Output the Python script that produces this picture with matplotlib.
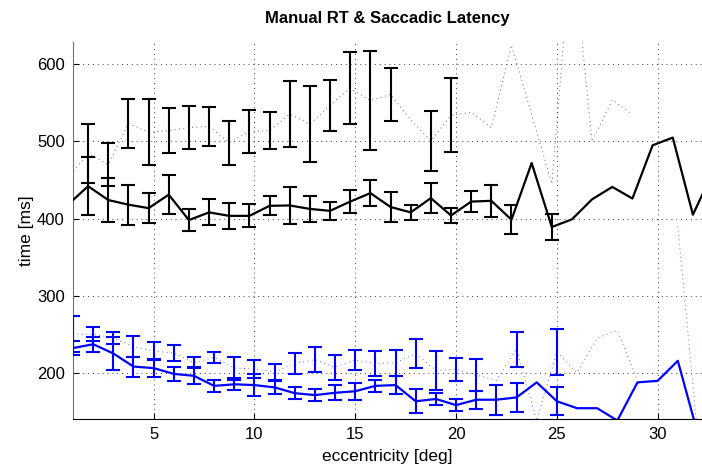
import numpy as np
import matplotlib
matplotlib.use("Agg")
import matplotlib.pyplot as plt

plt.rcParams["font.family"] = ["Liberation Sans", "DejaVu Sans"]

nan = np.nan

# --------------------------------------------------------------------------- #
#  Data
# --------------------------------------------------------------------------- #
# manual RT is sampled a quarter degree left of the saccade bins
ecc_rt = np.arange(1, 34) - 0.25      # 0.75 .. 32.75 deg
ecc_sacc = np.arange(1, 33)           # 1 .. 32 deg

# manual RT, condition A (solid black)
rt_a_mean = [418, 442, 424, 418, 413.5, 431, 398, 408, 403.5, 403.5, 416.5,
             417, 412.5, 410, 422, 433, 415, 408, 426.5, 404, 422, 423, 398.5,
             472, 389, 399, 425, 441, 426, 495, 505, 405, 461]
rt_a_err = [nan, 38, 28, 26, 19, 25, 14, 17, 16.5, 15, 12.5, 24, 16.5, 12, 15,
            17, 19, 10, 19.5, 10, 14, 21, 19, nan, 17,
            nan, nan, nan, nan, nan, nan, nan, nan]

# manual RT, condition B (dotted black)
rt_b_mean = [453, 484.5, 470, 523.5, 512, 514, 518, 519.5, 498.5, 513, 514,
             535.5, 522.5, 547, 569, 553, 561, 528, 501, 534, 538, 518, 625,
             535, 445, 760, 500, 554, 535, nan, nan, nan, nan]
rt_b_err = [nan, 38, 28, 31.5, 42.6, 29, 28, 25.5, 28.5, 28, 24, 42.5, 49.5,
            33, 47, 64, 34.5, nan, 39, 48,
            nan, nan, nan, nan, nan, nan, nan, nan, nan, nan, nan, nan, nan]

# saccadic latency, condition A (solid blue)
sacc_a_mean = [232, 237, 225, 208, 206, 198.5, 196, 183, 185, 184, 181, 173.5,
               171, 174, 176, 183, 184, 163, 166, 158, 165, 165, 168, 187.5,
               163, 154, 154, 138, 187.5, 189.5, 215.5, 120]
sacc_a_err = [9, 10, 21, 13, 12, 9, 11, 7.5, 8, 14, 8, 7.5, 7.5, 10, 11, 7.5,
              12, 15.5, 8, 8, 11.5, 19.5, 19, nan, 18,
              nan, nan, nan, nan, nan, nan, nan]

# saccadic latency, condition B (dotted blue)
sacc_b_mean = [250, 250, 245, 234, 228, 225.7, 213, 220, 206, 205, 201, 212,
               217, 207, 216.5, 212, 213, 225, 203, 204.5, 197, 190, 230.5,
               138, 227, 200, 245, 255, 190, nan, 390, 115]
sacc_b_err = [23, 9, 8, 13.5, 12, 10, 7, 7, 15, 11.5, 10, 14, 16, 16, 13, 16,
              17, 18.5, 25, 15, 21, nan, 22.7, nan, 30,
              nan, nan, nan, nan, nan, nan, nan]

X_TICKS = [5, 10, 15, 20, 25, 30]
Y_TICKS = [200, 300, 400, 500, 600]


# --------------------------------------------------------------------------- #
#  Plot
# --------------------------------------------------------------------------- #
def draw_series(ax, x, mean, err, color, dotted):
    """One condition: connecting line plus solid error bars."""
    if dotted:
        ax.plot(x, mean, color=color, linewidth=0.7, alpha=0.6,
                linestyle=(0, (1, 3.5)), zorder=2)
    else:
        ax.plot(x, mean, color=color, linewidth=1.6, zorder=3)
    ax.errorbar(x, mean, yerr=err, fmt="none", ecolor=color,
                elinewidth=1.5, capsize=5, capthick=1.5, zorder=3)


def main():
    fig = plt.figure(figsize=(7.02, 4.70), dpi=100)
    ax = fig.add_axes([73 / 702, 51 / 470, 629 / 702, 377 / 470])

    draw_series(ax, ecc_rt, rt_b_mean, rt_b_err, "black", dotted=True)
    draw_series(ax, ecc_rt, rt_a_mean, rt_a_err, "black", dotted=False)
    draw_series(ax, ecc_sacc, sacc_b_mean, sacc_b_err, "blue", dotted=True)
    draw_series(ax, ecc_sacc, sacc_a_mean, sacc_a_err, "blue", dotted=False)

    ax.set_xlim(1, 32.2)
    ax.set_ylim(140, 629)
    ax.set_xticks(X_TICKS)
    ax.set_yticks(Y_TICKS)
    ax.grid(True, color="0.25", linewidth=0.7, linestyle=(0, (1, 4)))
    ax.set_axisbelow(True)

    for side in ("top", "right"):
        ax.spines[side].set_visible(False)
    ax.spines["left"].set_color("0.45")
    ax.spines["bottom"].set_color("black")
    ax.tick_params(direction="in", length=4, width=0.8, labelsize=12, pad=6)

    ax.set_xlabel("eccentricity [deg]", fontsize=12.5, labelpad=5)
    ax.set_ylabel("time [ms]", fontsize=12.5, labelpad=2)
    ax.set_title("Manual RT & Saccadic Latency", fontsize=12,
                 fontweight="bold", pad=14)

    fig.savefig("out.png", dpi=100)


if __name__ == "__main__":
    main()
